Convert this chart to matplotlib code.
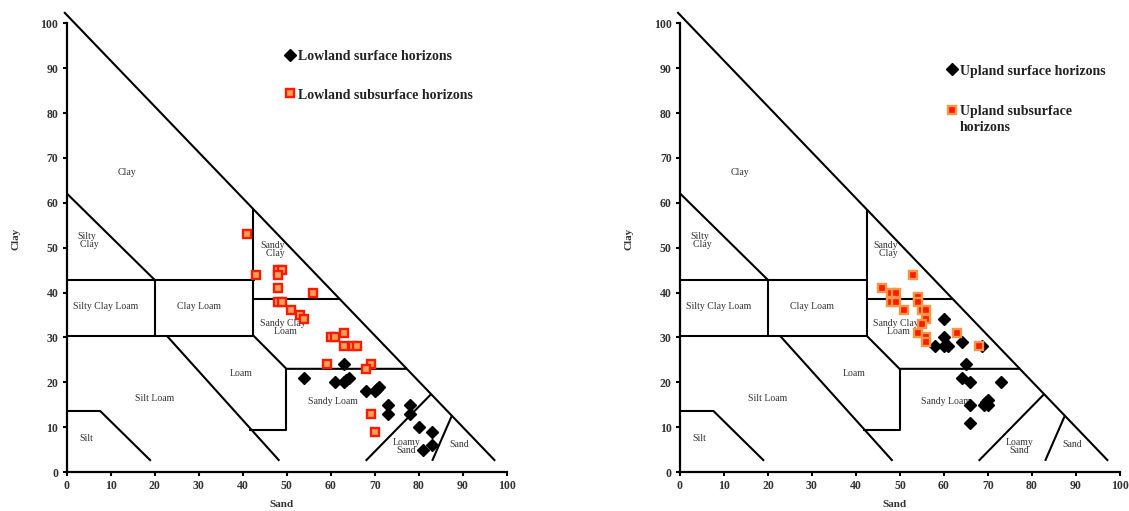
import matplotlib
matplotlib.use('Agg')
from matplotlib import pyplot as plt

# texture triangle boundaries (sand %, clay %)
boundaries = [
    [(-0.6, 102.5), (97.3, 2.5)],
    [(0, 62.1), (20.1, 42.7)],
    [(0, 42.7), (42.8, 42.7)],
    [(20.1, 42.7), (20.1, 30.4)],
    [(0, 30.4), (42.4, 30.4)],
    [(42.4, 58.6), (42.4, 30.4)],
    [(42.4, 38.5), (61.9, 38.5)],
    [(42.4, 30.4), (49.9, 23.0), (77.3, 23.0)],
    [(49.9, 23.0), (49.9, 9.4), (41.5, 9.4)],
    [(22.7, 30.4), (48.3, 2.5)],
    [(0, 13.6), (7.6, 13.6), (19.1, 2.5)],
    [(67.9, 2.5), (82.8, 17.4)],
    [(83.0, 2.5), (87.4, 12.4)],
]

class_names = ['Clay', 'Silty\n  Clay', 'Silty Clay Loam', 'Clay Loam', 'Sandy\n  Clay',
               'Sandy Clay\n  Loam', 'Loam', 'Silt Loam', 'Silt', 'Sandy Loam',
               'Loamy\nSand', 'Sand']
class_pos = [(13.6, 66.7), (4.6, 51.5), (8.8, 36.9), (30.0, 36.9), (46.8, 49.5),
             (49.0, 32.3), (39.6, 22.0), (20.0, 16.4), (4.4, 7.5), (60.5, 15.7),
             (77.2, 5.6), (89.1, 6.2)]

# lowland
low_surf_sand = [54, 61, 63, 63.5, 64, 63, 68, 70, 70.5, 71, 73, 73, 78, 78, 80, 83, 83, 81]
low_surf_clay = [21, 20, 20, 20.5, 21, 24, 18, 18, 18.5, 19, 15, 13, 15, 13, 10, 9, 6, 5]
low_sub_sand = [41, 43, 48, 49, 48, 48, 56, 48, 49, 51, 53, 54, 60, 61, 63, 63, 65, 66,
                59, 69, 68, 69, 70]
low_sub_clay = [53, 44, 45, 45, 44, 41, 40, 38, 38, 36, 35, 34, 30, 30, 31, 28, 28, 28,
                24, 24, 23, 13, 9]

# upland
up_surf_sand = [60, 60, 58, 60, 61, 64, 68.6, 65, 64, 66, 73, 66, 69, 70, 70, 69.5, 66]
up_surf_clay = [34, 30, 28, 28, 28, 29, 28, 24, 21, 20, 20, 15, 15, 16, 15, 15.5, 11]
up_sub_sand = [53, 46, 48, 49, 48, 49, 54, 54, 51, 55, 56, 56, 55, 54, 56, 56, 63, 68]
up_sub_clay = [44, 41, 40, 40, 38, 38, 39, 38, 36, 36, 36, 34, 33, 31, 30, 29, 31, 28]

plt.rcParams['font.family'] = ['Liberation Serif', 'DejaVu Serif']

fig = plt.figure(figsize=(11.29, 5.11), dpi=100)
ax1 = fig.add_axes([0.0591, 0.0763, 0.390, 0.878])
ax2 = fig.add_axes([0.6023, 0.0763, 0.3897, 0.878])

panels = [
    (ax1, low_surf_sand, low_surf_clay, low_sub_sand, low_sub_clay,
     'Lowland surface horizons', 'Lowland subsurface horizons', '#f4a25a', '#ff1a00',
     (0.499, 0.941), 1.85),
    (ax2, up_surf_sand, up_surf_clay, up_sub_sand, up_sub_clay,
     'Upland surface horizons', 'Upland subsurface\nhorizons', '#ff1a00', '#f79646',
     (0.611, 0.908), 1.95),
]

for ax, ss, sc, bs, bc, lab1, lab2, face, edge, anchor, spacing in panels:
    for b in boundaries:
        xs = [p[0] for p in b]
        ys = [p[1] for p in b]
        ax.plot(xs, ys, color='black', lw=1.5, clip_on=False, solid_capstyle='butt')
    for name, (x, y) in zip(class_names, class_pos):
        ax.text(x, y, name, fontsize=7, color='#333333', ha='center', va='center',
                linespacing=0.85)
    h1, = ax.plot(ss, sc, 'D', color='black', ms=6, ls='none', label=lab1, zorder=3)
    h2, = ax.plot(bs, bc, 's', mfc=face, mec=edge, mew=1.7, ms=5.8, ls='none',
                  label=lab2, zorder=4)
    ax.set_xlim(0, 100)
    ax.set_ylim(0, 100)
    ax.set_xticks(range(0, 101, 10))
    ax.set_yticks(range(0, 101, 10))
    for sp in ['top', 'right']:
        ax.spines[sp].set_visible(False)
    for sp in ['left', 'bottom']:
        ax.spines[sp].set_linewidth(1.6)
    ax.tick_params(direction='out', length=3, width=1.5, labelsize=8.5,
                   labelcolor='#333333', pad=3)
    for t in ax.get_xticklabels() + ax.get_yticklabels():
        t.set_fontweight('bold')
    ax.set_xlabel('Sand', fontsize=8, fontweight='bold', color='#333333')
    ax.set_ylabel('Clay', fontsize=8, fontweight='bold', color='#333333')
    ax.xaxis.set_label_coords(0.487, -0.062)
    ax.yaxis.set_label_coords(-0.106, 0.52)

    leg = ax.legend(handles=[h1, h2], loc='upper left', bbox_to_anchor=anchor,
                    frameon=False, handlelength=0.5, handletextpad=0.3,
                    labelspacing=spacing, borderpad=0, borderaxespad=0,
                    prop={'size': 10, 'weight': 'bold'})
    for t in leg.get_texts():
        t.set_color('#222222')
        t.set_linespacing(1.35)
    # keep the key level with the first line of a wrapped label
    for col in leg._legend_handle_box.get_children():
        for row in col.get_children():
            row.align = 'top'

fig.savefig('out.png', dpi=100)
